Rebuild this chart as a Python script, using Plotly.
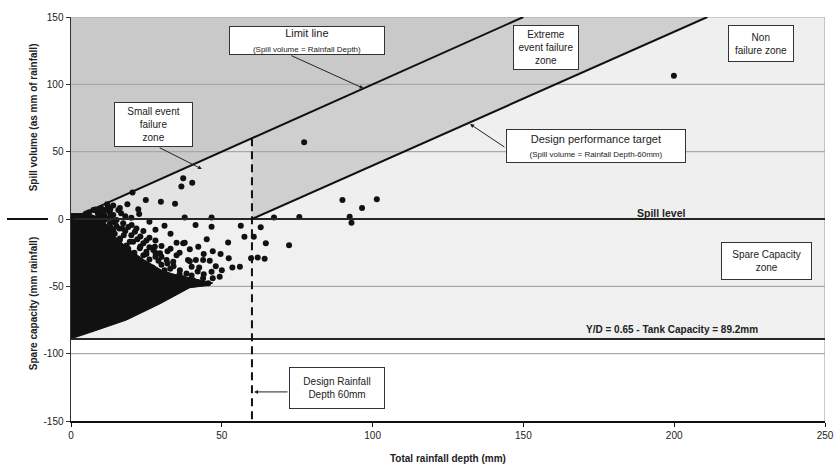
import plotly.graph_objects as go

FONT = "Liberation Sans, Arial, sans-serif"

# ---- axes / ticks ----
X_TICKS = [0, 50, 100, 150, 200, 250]
Y_TICKS = [-150, -100, -50, 0, 50, 100, 150]
GRID_Y = [-100, -50, 50, 100, 150]
X_MAX = 250

# ---- reference lines ----
LIMIT_LINE_X = [0, 150]
LIMIT_LINE_Y = [0, 150]
DESIGN_LINE_X = [60, 211]
DESIGN_LINE_Y = [0, 150]
DESIGN_DEPTH = 60
SPILL_LEVEL = 0
TANK_CAPACITY = -89.2

# ---- zones ----
ZONE_ABOVE_LIMIT_X = [0, 150, 0]
ZONE_ABOVE_LIMIT_Y = [0, 150, 150]
ZONE_SMALL_EVENT_X = [0, 60, 60]
ZONE_SMALL_EVENT_Y = [0, 60, 0]
ZONE_EXTREME_X = [60, 60, 150, 211]
ZONE_EXTREME_Y = [0, 60, 150, 150]
ZONE_NONFAIL_X = [60, 211, 250, 250]
ZONE_NONFAIL_Y = [0, 150, 150, 0]
ZONE_SPARE_X = [0, 250, 250, 0]
ZONE_SPARE_Y = [0, 0, -89.2, -89.2]

# ---- dense cloud of events (outline of the solid black mass) ----
MASS_X = [0, 4, 7, 9, 11, 12.5, 13.5, 15, 17, 19, 21.5, 24, 27, 30, 34, 38, 43, 47, 45, 39.4, 29.5, 18.4, 8, 0]
MASS_Y = [4, 4, 3, 1, -2, -6, -10, -14, -18, -22, -26, -30, -34, -38, -41, -43, -45, -47.5, -49.5, -51, -63, -75, -83, -89]

# ---- individual events ----
EVENT_X = [2, 4, 5.7, 7.4, 9, 8.7, 11.3, 12.2, 12.8, 14, 15.7, 16.6, 16.2, 18.7, 20.4, 22.3, 22.6,
           24.8, 29.8, 34.5, 36.6, 37.2, 40.2, 37.7, 46.6, 67.3, 75.7, 77.3, 90, 101.4, 96.5, 92.4,
           93, 199.9, 10, 13, 18, 20, 6, 3, 10, 14,
           11, 12.9, 15.1, 17.3, 20.1, 21.7, 21.2, 14, 16.2, 19.5, 16.2, 15.1, 18.4, 20.6, 23, 22.8,
           25, 27.3, 27.8, 29.5, 31.7, 33.9, 35, 37.2, 37.7, 39.4, 42.2, 41.3, 46.6, 56.3, 62.9, 57.5,
           60.6, 64.6, 72.3, 52.1, 49.6, 52.3, 59.7, 61.9, 64.2, 56, 53.5, 46.6, 49.3, 45.5, 43.8,
           40.5, 37.2, 33.9, 38.3, 36.1, 32.9, 40, 42.5, 38.8, 41.4, 43.8, 39.4, 24, 26, 21, 19, 17.5,
           14.5, 23, 25, 28, 30, 35, 32, 44, 47, 42,
           9, 11, 12, 14, 15, 16, 18, 19, 20, 22, 24, 26, 25, 28, 30, 29, 32, 34, 31, 36, 40, 42, 38,
           35, 27, 23, 20, 18, 16, 17, 13, 24, 26, 28, 30, 33, 36, 44, 46, 48, 50, 47, 45, 33, 31, 28,
           26, 8, 5, 12, 4, 7, 10, 13]
EVENT_Y = [1.5, 2.5, 3, 6.7, 4.2, 5.4, 6.7, 9.2, 5, 3, 6.7, 4.2, 8.2, 10.9, 19.6, 7.2, 3.7,
           14.1, 12.9, 11.4, 24.2, 30.2, 27, 1.2, 1.2, 1.2, 1.4, 57, 14.1, 14.6, 8.2, 1.7,
           -2.7, 106.3, 2, 1.5, 2, 1, 5, 2, 8, 10,
           -1, -3.2, -0.7, -3.2, -4.5, -7, -9.4, -8.2, -14.4, -16.9, -15.6, -20.6, -19.6, -16.9, -20.5, -21.8,
           -24.3, -23, -20.6, -25.5, -30.5, -31.7, -17.6, -18.1, -17.6, -22.5, -20.6, -4.5, -5.7, -5, -6.2, -13.2,
           -13.1, -18.1, -19.5, -17.5, -26, -29.2, -29.2, -28.5, -29.5, -35.4, -36, -39.2, -42.9, -47.8, -44,
           -45.4, -44, -42.9, -40.4, -38, -37, -35.4, -36, -30.5, -30.5, -30.5, -31.3, -27, -30, -25, -22, -12,
           -11, -13, -16, -28, -34, -27, -24, -41, -44, -39,
           2, 3, 0.5, -2, -5, -7, -9, -6, -12, -15, -18, -21, -26, -25, -28, -31, -33, -35, -38, -41, -42, -47, -47,
           -46, -36, -31, -27, -23, -19, -7, -6, -9, -14, -16, -20, -22, -25, -26, -31, -35, -38, -24, -15, -11, -5, -8,
           -2, 7, 4, 11, 1, 1, 5, 7]

fig = go.Figure()


def zone(xs, ys, color):
    fig.add_trace(go.Scatter(x=xs, y=ys, fill="toself", fillcolor=color, mode="lines",
                             line=dict(width=0), hoverinfo="skip"))


zone(ZONE_SPARE_X, ZONE_SPARE_Y, "#f0f0f0")
zone(ZONE_NONFAIL_X, ZONE_NONFAIL_Y, "#efefef")
zone(ZONE_ABOVE_LIMIT_X, ZONE_ABOVE_LIMIT_Y, "#c9c9c9")
zone(ZONE_EXTREME_X, ZONE_EXTREME_Y, "#cfcfcf")
zone(ZONE_SMALL_EVENT_X, ZONE_SMALL_EVENT_Y, "#e3e3e3")

# gridlines
for gy in GRID_Y:
    fig.add_trace(go.Scatter(x=[0, X_MAX], y=[gy, gy], mode="lines",
                             line=dict(color="#a8a8a8", width=1.2), hoverinfo="skip"))
fig.add_trace(go.Scatter(x=[X_MAX, X_MAX], y=[Y_TICKS[0], Y_TICKS[-1]], mode="lines",
                         line=dict(color="#a8a8a8", width=1.2), hoverinfo="skip"))

# events
fig.add_trace(go.Scatter(x=MASS_X, y=MASS_Y, fill="toself", fillcolor="#111111", mode="lines",
                         line=dict(color="#111111", width=1), hoverinfo="skip"))
fig.add_trace(go.Scatter(x=EVENT_X, y=EVENT_Y, mode="markers",
                         marker=dict(color="#111111", size=6), hoverinfo="skip"))

# reference lines
fig.add_trace(go.Scatter(x=[0, X_MAX], y=[SPILL_LEVEL, SPILL_LEVEL], mode="lines",
                         line=dict(color="#262626", width=2)))
fig.add_trace(go.Scatter(x=[0, X_MAX], y=[TANK_CAPACITY, TANK_CAPACITY], mode="lines",
                         line=dict(color="#262626", width=2)))
fig.add_trace(go.Scatter(x=LIMIT_LINE_X, y=LIMIT_LINE_Y, mode="lines",
                         line=dict(color="#111111", width=2)))
fig.add_trace(go.Scatter(x=DESIGN_LINE_X, y=DESIGN_LINE_Y, mode="lines",
                         line=dict(color="#111111", width=2)))
fig.add_trace(go.Scatter(x=[DESIGN_DEPTH, DESIGN_DEPTH], y=[DESIGN_DEPTH, Y_TICKS[0]], mode="lines",
                         line=dict(color="#111111", width=2, dash="8px,5px")))

ann = []


def box(x, y, text, w, h, size=10):
    ann.append(dict(x=x, y=y, xref="x", yref="y", text=text, showarrow=False,
                    width=w, height=h, bgcolor="white", bordercolor="#333333", borderwidth=1,
                    borderpad=0, align="center",
                    font=dict(family=FONT, size=size, color="#222222")))


def arrow(x0, y0, x1, y1):
    ann.append(dict(x=x1, y=y1, ax=x0, ay=y0, xref="x", yref="y", axref="x", ayref="y",
                    text="", showarrow=True, arrowhead=2, arrowsize=0.8, arrowwidth=1,
                    arrowcolor="#222222"))


arrow(72.6, 121.8, 97, 97)
arrow(28.9, 53.5, 43.4, 37.1)
arrow(144.2, 52.7, 132.3, 70.5)
arrow(72.3, -128.4, 60.7, -128.4)

box(78.1, 132.9, "Limit line<br><span style='font-size:8px'>(Spill volume = Rainfall Depth)</span>", 154, 27, 11)
box(157.4, 127, "Extreme<br>event failure<br>zone", 64, 43)
box(228.7, 130, "Non<br>failure zone", 64, 35)
box(27.4, 70, "Small event<br>failure<br>zone", 77, 43)
box(174, 54.2, "Design performance target<br><span style='font-size:8px'>(Spill volume = Rainfall Depth-60mm)</span>",
    178, 32, 11)
box(230.6, -31, "Spare Capacity<br>zone", 89, 36)
box(88.2, -125.5, "Design Rainfall<br>Depth 60mm", 94, 40)

ann.append(dict(x=195.7, y=4.7, xref="x", yref="y", text="<b>Spill level</b>", showarrow=False,
                font=dict(family=FONT, size=10.5, color="#222222")))
ann.append(dict(x=199.3, y=-81.9, xref="x", yref="y", text="<b>Y/D = 0.65 - Tank Capacity = 89.2mm</b>",
                showarrow=False, font=dict(family=FONT, size=10, color="#222222")))

# axis titles
ann.append(dict(x=0.5, y=-0.0916, xref="paper", yref="paper", text="<b>Total rainfall depth (mm)</b>",
                showarrow=False, yanchor="middle", font=dict(family=FONT, size=10, color="#222222")))
ann.append(dict(x=-0.0504, y=75.5, xref="paper", yref="y", text="<b>Spill volume (as mm of rainfall)</b>",
                showarrow=False, textangle=-90, xanchor="center", yanchor="middle",
                font=dict(family=FONT, size=10, color="#222222")))
ann.append(dict(x=-0.0504, y=-62.5, xref="paper", yref="y", text="<b>Spare capacity (mm rainfall)</b>",
                showarrow=False, textangle=-90, xanchor="center", yanchor="middle",
                font=dict(family=FONT, size=10, color="#222222")))

fig.update_layout(
    width=836, height=464,
    margin=dict(l=71, r=11, t=17, b=43, autoexpand=False),
    paper_bgcolor="white", plot_bgcolor="white",
    showlegend=False,
    hovermode=False,
    annotations=ann,
    shapes=[dict(type="line", xref="paper", yref="y", x0=-0.0849, x1=-0.0305, y0=SPILL_LEVEL, y1=SPILL_LEVEL,
                 line=dict(color="#111111", width=2))],
    font=dict(family=FONT, size=10, color="#222222"),
)
fig.update_xaxes(range=[0, X_MAX], tickvals=X_TICKS, ticktext=[str(v) for v in X_TICKS],
                 showgrid=False, zeroline=False, showline=True, linecolor="#111111", linewidth=2,
                 ticks="outside", ticklen=4, tickcolor="#111111", tickfont=dict(size=10, family=FONT),
                 automargin=False, ticklabeloverflow="allow")
fig.update_yaxes(range=[Y_TICKS[0], Y_TICKS[-1]], tickvals=Y_TICKS, ticktext=[str(v) for v in Y_TICKS],
                 showgrid=False, zeroline=False, showline=True, linecolor="#333333", linewidth=1.5,
                 ticks="outside", ticklen=4, tickcolor="#333333", tickfont=dict(size=10, family=FONT),
                 automargin=False, ticklabeloverflow="allow")

fig.write_html("out.html", config={"displayModeBar": False, "staticPlot": True},
               post_script="document.body.style.margin='0';document.body.style.overflow='hidden';")
